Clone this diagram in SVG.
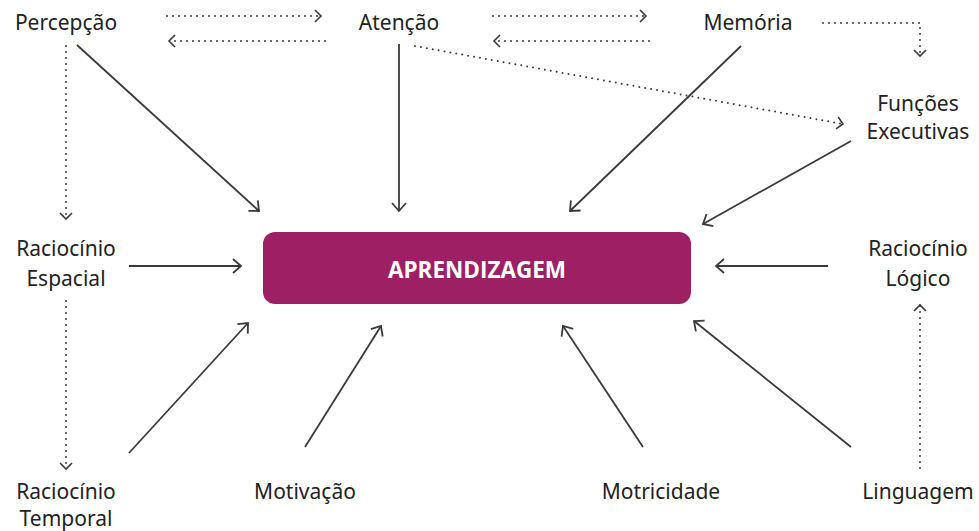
<svg xmlns="http://www.w3.org/2000/svg" width="979" height="531" viewBox="0 0 979 531">
<style>
.lbl{font-family:"Noto Sans","Open Sans",sans-serif;font-size:21px;fill:#222;text-anchor:middle}
.ttl{font-family:"Open Sans","Noto Sans",sans-serif;font-size:22.5px;font-weight:bold;fill:#fff;text-anchor:middle}
.sol{fill:none;stroke:#3a3a3a;stroke-width:1.8;marker-end:url(#ah)}
.dota{fill:none;stroke:#3a3a3a;stroke-width:2;stroke-dasharray:0 6;stroke-linecap:round;marker-end:url(#ah2)}
</style>
<defs>
<marker id="ah" markerUnits="userSpaceOnUse" markerWidth="12" markerHeight="16" refX="9" refY="8" orient="auto" viewBox="0 0 12 16">
<path d="M1,1 L9,8 L1,15" fill="none" stroke="#3a3a3a" stroke-width="1.8"/>
</marker>
<marker id="ah2" markerUnits="userSpaceOnUse" markerWidth="12" markerHeight="16" refX="8" refY="8" orient="auto" viewBox="0 0 12 16">
<path d="M2,2 L8,8 L2,14" fill="none" stroke="#3a3a3a" stroke-width="1.6"/>
</marker>
</defs>
<g id="connectors">
<line class="sol" x1="77" y1="45" x2="259" y2="211"/>
<line class="sol" x1="399" y1="44" x2="399" y2="211"/>
<line class="sol" x1="741" y1="46" x2="570" y2="211"/>
<line class="sol" x1="851" y1="141" x2="703" y2="224"/>
<line class="sol" x1="129" y1="266" x2="241" y2="266"/>
<line class="sol" x1="828" y1="266" x2="716" y2="266"/>
<line class="sol" x1="129" y1="453" x2="248" y2="323"/>
<line class="sol" x1="305" y1="447" x2="381" y2="326"/>
<line class="sol" x1="643" y1="447" x2="563" y2="326"/>
<line class="sol" x1="851" y1="447" x2="694" y2="321"/>
<line class="dota" x1="167" y1="16" x2="321" y2="16"/>
<line class="dota" x1="325" y1="41" x2="169" y2="41"/>
<line class="dota" x1="493" y1="16" x2="646" y2="16"/>
<line class="dota" x1="649" y1="41" x2="494" y2="41"/>
<polyline class="dota" points="823,23 920,23 920,56"/>
<line class="dota" x1="415" y1="46" x2="843" y2="124"/>
<line class="dota" x1="66" y1="46" x2="66" y2="219"/>
<line class="dota" x1="66" y1="301" x2="66" y2="469"/>
<line class="dota" x1="920" y1="468" x2="920" y2="305"/>
</g>
<g id="aprendizagem">
<rect x="263" y="232" width="428" height="72" rx="12" fill="#9e2064"/>
<text class="ttl" x="477" y="278">APRENDIZAGEM</text>
</g>
<g id="percepcao"><text class="lbl" x="66" y="30">Percepção</text></g>
<g id="atencao"><text class="lbl" x="399" y="30">Atenção</text></g>
<g id="memoria"><text class="lbl" x="748" y="30">Memória</text></g>
<g id="funcoes"><text class="lbl" x="918" y="111">Funções</text><text class="lbl" x="918" y="139">Executivas</text></g>
<g id="espacial"><text class="lbl" x="66" y="256">Raciocínio</text><text class="lbl" x="66" y="286">Espacial</text></g>
<g id="logico"><text class="lbl" x="918" y="256">Raciocínio</text><text class="lbl" x="918" y="286">Lógico</text></g>
<g id="temporal"><text class="lbl" x="66" y="499">Raciocínio</text><text class="lbl" x="66" y="526">Temporal</text></g>
<g id="motivacao"><text class="lbl" x="305" y="499">Motivação</text></g>
<g id="motricidade"><text class="lbl" x="661" y="499">Motricidade</text></g>
<g id="linguagem"><text class="lbl" x="918" y="499">Linguagem</text></g>
</svg>
